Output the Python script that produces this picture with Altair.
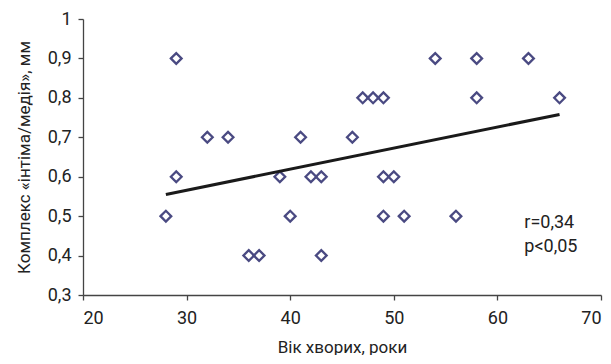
import altair as alt
import pandas as pd

age = [28, 29, 29, 32, 34, 36, 37, 39, 40, 41, 42, 43, 43, 46, 47, 48, 49, 49, 50, 49, 51, 54, 56, 58, 58, 63, 66]
thickness = [0.5, 0.9, 0.6, 0.7, 0.7, 0.4, 0.4, 0.6, 0.5, 0.7, 0.6, 0.6, 0.4, 0.7, 0.8, 0.8, 0.8, 0.6, 0.6, 0.5, 0.5, 0.9, 0.5, 0.9, 0.8, 0.9, 0.8]

trend_x = [28, 66]
trend_y = [0.555, 0.758]

annot_text = ["r=0,34", "p<0,05"]
annot_x = [62.6, 62.6]
annot_y = [0.482, 0.421]

x_ticks = [20, 30, 40, 50, 60, 70]
y_ticks = [0.3, 0.4, 0.5, 0.6, 0.7, 0.8, 0.9, 1.0]

FONT = "Roboto"

pts = pd.DataFrame({"age": age, "thickness": thickness})
trend = pd.DataFrame({"age": trend_x, "thickness": trend_y})
annot = pd.DataFrame({"age": annot_x, "thickness": annot_y, "text": annot_text})

xs = alt.Scale(domain=[20, 70], nice=False, zero=False)
ys = alt.Scale(domain=[0.3, 1.0], nice=False, zero=False)

xaxis = alt.Axis(values=x_ticks, title="Вік хворих, роки", grid=False,
                 tickSize=5, labelPadding=9, titlePadding=12, labelOverlap=False)
yaxis = alt.Axis(values=y_ticks, title="Комплекс «інтіма/медія», мм", grid=False,
                 tickSize=5, labelPadding=7, titlePadding=14, labelOverlap=False,
                 labelExpr="datum.value == 1 ? '1' : replace(format(datum.value, '.1f'), '.', ',')")

points = alt.Chart(pts).mark_point(shape="diamond", filled=False, size=115, opacity=1,
                                   strokeWidth=2.3, color="#4a4a82").encode(
    x=alt.X("age:Q", scale=xs, axis=xaxis),
    y=alt.Y("thickness:Q", scale=ys, axis=yaxis),
)

line = alt.Chart(trend).mark_line(color="#1a1a1a", strokeWidth=3).encode(
    x=alt.X("age:Q", scale=xs, axis=xaxis),
    y=alt.Y("thickness:Q", scale=ys, axis=yaxis),
)

text = alt.Chart(annot).mark_text(align="left", baseline="middle", fontSize=18,
                                  font=FONT, color="#222222").encode(
    x=alt.X("age:Q", scale=xs, axis=xaxis),
    y=alt.Y("thickness:Q", scale=ys, axis=yaxis),
    text="text:N",
)

chart = alt.layer(points, line, text).properties(
    width=518, height=276,
    background="white",
    autosize=alt.AutoSizeParams(type="none"),
    padding={"left": 75, "top": 11, "right": 2, "bottom": 60},
).configure_view(stroke=None).configure_axis(
    domainColor="#444444", tickColor="#444444", domainWidth=1.3, tickWidth=1.3,
    labelFont=FONT, titleFont=FONT, labelFontSize=18, titleFontSize=17,
    labelColor="#222222", titleColor="#222222", titleFontWeight="normal",
    labelOverlap=False,
)

chart.save("out.html", embed_options={"renderer": "svg", "actions": False})
